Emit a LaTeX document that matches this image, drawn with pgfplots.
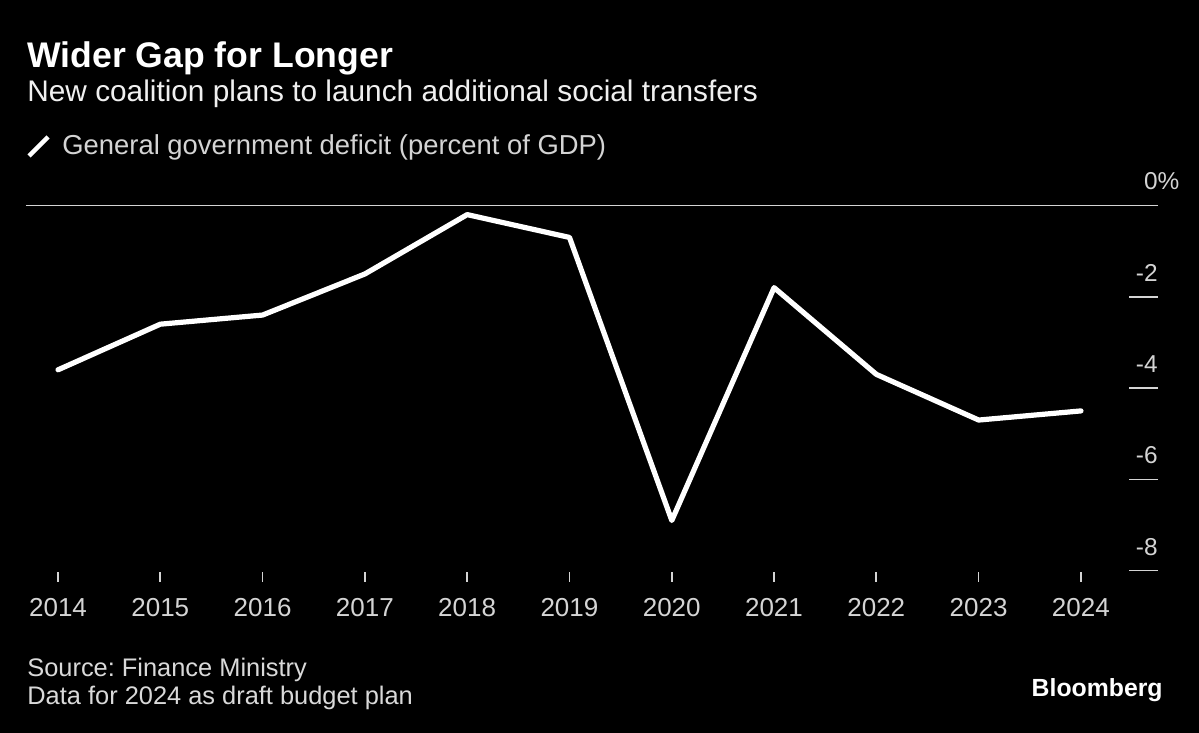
\documentclass[border=0pt]{standalone}
\usepackage{pgfplots}
\pgfplotsset{compat=1.18}
\usepackage{fontspec}
\setmainfont{Liberation Sans}
\frenchspacing
\definecolor{tickgray}{HTML}{D4D4D4}
\definecolor{srcgray}{HTML}{D9D9D9}
\begin{document}
\begin{tikzpicture}[x=0.5pt,y=0.5pt]
\useasboundingbox (0,0) rectangle (1199,733);
\fill[black] (0,0) rectangle (1199,733);
% titles
\node[anchor=base west, inner sep=0pt, text=white] at (27,733-68) {\fontsize{17.8}{20}\selectfont\bfseries Wider Gap for Longer};
\node[anchor=base west, inner sep=0pt, text=white!94!black] at (27,733-102) {\fontsize{14.9}{17}\selectfont New coalition plans to launch additional social transfers};
% legend
\draw[white, line width=2.2pt] (29,733-156) -- (48,733-137);
\node[anchor=base west, inner sep=0pt, text=tickgray] at (62,733-155) {\fontsize{13.7}{16}\selectfont General government deficit (percent of GDP)};
% source
\node[anchor=base west, inner sep=0pt, text=srcgray] at (27,733-677) {\fontsize{12.7}{15}\selectfont Source: Finance Ministry};
\node[anchor=base west, inner sep=0pt, text=srcgray] at (27,733-705) {\fontsize{12.7}{15}\selectfont Data for 2024 as draft budget plan};
\node[anchor=base east, inner sep=0pt, text=white] at (1163,733-697) {\fontsize{12.4}{15}\selectfont\bfseries Bloomberg};
\begin{axis}[
  at={(13pt,75.5pt)}, anchor=south west,
  scale only axis,
  width=566pt, height=188.25pt,
  xmin=2013.687, xmax=2024.753,
  ymin=-8.2475, ymax=0,
  clip=false,
  axis line style={draw=none},
  axis x line*=bottom,
  axis y line*=right,
  tick align=inside,
  major tick length=14.5pt,
  xtick={2014,...,2024},
  xticklabels={2014,2015,2016,2017,2018,2019,2020,2021,2022,2023,2024},
  xtick style={tickgray, line width=0.8pt, /pgfplots/major tick length=5pt},
  xticklabel style={anchor=north, inner sep=0pt, yshift=-8pt, text=tickgray, font=\fontsize{13}{15}\selectfont},
  ytick={-8,-6,-4,-2},
  yticklabels={-8,-6,-4,-2},
  ytick style={tickgray, line width=0.8pt},
  yticklabel style={anchor=south east, inner sep=0pt, yshift=7.5pt, text=tickgray, font=\fontsize{12.2}{14}\selectfont},
  extra y ticks={0},
  extra y tick labels={0\rlap{\%}},
  extra y tick style={grid=major, major grid style={tickgray, line width=0.9pt}},
  /pgf/number format/assume math mode=true,
]
\addplot[white, line width=2.6pt, line join=round, line cap=round] coordinates {
(2014,-3.6) (2015,-2.6) (2016,-2.4) (2017,-1.5) (2018,-0.2) (2019,-0.7)
(2020,-6.9) (2021,-1.8) (2022,-3.7) (2023,-4.7) (2024,-4.5)
};
\end{axis}
\end{tikzpicture}
\end{document}
